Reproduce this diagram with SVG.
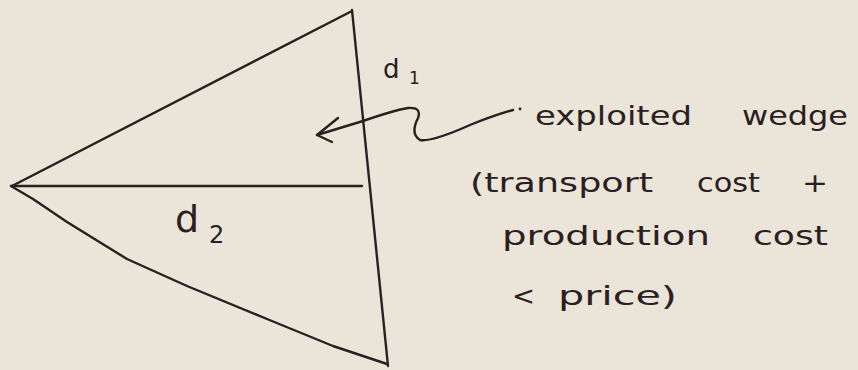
<svg xmlns="http://www.w3.org/2000/svg" width="858" height="370" viewBox="0 0 858 370">
  <style>
    .ink { fill: none; stroke: #2a2021; stroke-width: 2.4; stroke-linecap: round; stroke-linejoin: round; }
    .hand { font-family: "DejaVu Sans", "Liberation Sans", sans-serif; fill: #2a2021; font-size: 27px; }
    .lbl { font-family: "DejaVu Sans", "Liberation Sans", sans-serif; fill: #2a2021; }
  </style>
  <rect x="0" y="0" width="858" height="370" fill="#ebe4d8"/>
  <g id="wedge">
    <path class="ink" d="M12,186 L352,11"/>
    <path class="ink" d="M352,10 L388,366"/>
    <path class="ink" d="M11,186 L362,186"/>
    <path class="ink" d="M11,186 L33,199 L67,222 L127,259 L187,286 L267,319 L333,346 L387,364"/>
  </g>
  <g id="label-d1">
    <text class="lbl" x="383" y="78" font-size="26">d</text>
    <text class="lbl" x="409" y="84" font-size="17">1</text>
  </g>
  <g id="label-d2">
    <text class="lbl" x="175" y="232" font-size="38">d</text>
    <text class="lbl" x="209" y="243" font-size="24">2</text>
  </g>
  <g id="connectors">
    <path class="ink" d="M317,135 L363,121 Q395,110 408,108 Q422,107 418,118 Q410,134 420,140 Q432,142 470,125 Q495,115 513,110"/>
    <path class="ink" d="M338,118 L317,135 L332,142"/>
    <circle cx="520" cy="109" r="1.4" fill="#2a2021"/>
  </g>
  <g id="annotation">
    <text class="hand" x="535" y="125" textLength="157" lengthAdjust="spacingAndGlyphs">exploited</text>
    <text class="hand" x="742" y="125" textLength="106" lengthAdjust="spacingAndGlyphs">wedge</text>
    <text class="hand" x="470" y="192" textLength="183" lengthAdjust="spacingAndGlyphs">(transport</text>
    <text class="hand" x="697" y="192" textLength="63" lengthAdjust="spacingAndGlyphs">cost</text>
    <text class="hand" x="802" y="192" textLength="26" lengthAdjust="spacingAndGlyphs">+</text>
    <text class="hand" x="502" y="245" textLength="208" lengthAdjust="spacingAndGlyphs">production</text>
    <text class="hand" x="753" y="245" textLength="75" lengthAdjust="spacingAndGlyphs">cost</text>
    <text class="hand" x="512" y="305" textLength="23" lengthAdjust="spacingAndGlyphs">&lt;</text>
    <text class="hand" x="558" y="305" textLength="119" lengthAdjust="spacingAndGlyphs">price)</text>
  </g>
</svg>
